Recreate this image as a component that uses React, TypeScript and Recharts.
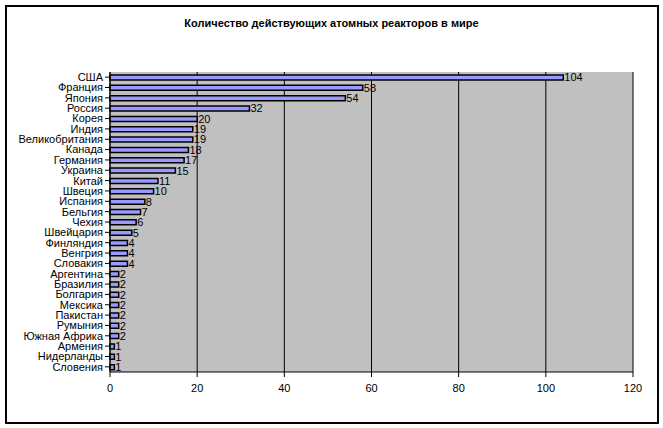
import { BarChart, Bar, XAxis, YAxis, CartesianGrid, LabelList } from 'recharts';

const countries = [
  'США', 'Франция', 'Япония', 'Россия', 'Корея', 'Индия', 'Великобритания', 'Канада',
  'Германия', 'Украина', 'Китай', 'Швеция', 'Испания', 'Бельгия', 'Чехия', 'Швейцария',
  'Финляндия', 'Венгрия', 'Словакия', 'Аргентина', 'Бразилия', 'Болгария', 'Мексика',
  'Пакистан', 'Румыния', 'Южная Африка', 'Армения', 'Нидерланды', 'Словения',
];

const reactors = [104, 58, 54, 32, 20, 19, 19, 18, 17, 15, 11, 10, 8, 7, 6, 5, 4, 4, 4, 2, 2, 2, 2, 2, 2, 2, 1, 1, 1];

const xTicks = [0, 20, 40, 60, 80, 100, 120];

const data = countries.map((name, i) => ({ name, value: reactors[i] }));

const font = '"Liberation Sans", Arial, sans-serif';

export default function App() {
  return (
    <div style={{ position: 'relative', width: 663, height: 428, fontFamily: font, background: '#fff' }}>
      <style>{'body{margin:0}'}</style>
      <div
        style={{
          position: 'absolute',
          left: 5,
          top: 5,
          width: 650,
          height: 415,
          border: '2px solid #000',
          pointerEvents: 'none',
        }}
      />
      <div
        style={{
          position: 'absolute',
          left: 0,
          top: 17,
          width: 663,
          textAlign: 'center',
          fontSize: 11,
          fontWeight: 'bold',
          color: '#000',
        }}
      >
        Количество действующих атомных реакторов в мире
      </div>
      <BarChart
        width={663}
        height={428}
        data={data}
        layout="vertical"
        margin={{ top: 72, right: 30, bottom: 26, left: 0 }}
        barCategoryGap={2}
      >
        <CartesianGrid horizontal={false} stroke="#000" fill="#c0c0c0" />
        <XAxis
          type="number"
          domain={[0, 120]}
          ticks={xTicks}
          interval={0}
          stroke="#000"
          tick={{ fill: '#000', fontSize: 11, fontFamily: font }}
          tickSize={5}
          tickMargin={7}
          height={30}
        />
        <YAxis
          type="category"
          dataKey="name"
          width={110}
          interval={0}
          stroke="#000"
          tick={{ fill: '#000', fontSize: 11, fontFamily: font }}
          tickSize={5}
          tickMargin={2}
        />
        <Bar dataKey="value" fill="#9999ff" stroke="#000" strokeWidth={1.5} barSize={5} isAnimationActive={false}>
          <LabelList dataKey="value" position="right" offset={1} fill="#000" fontSize={11} fontFamily={font} />
        </Bar>
      </BarChart>
    </div>
  );
}
